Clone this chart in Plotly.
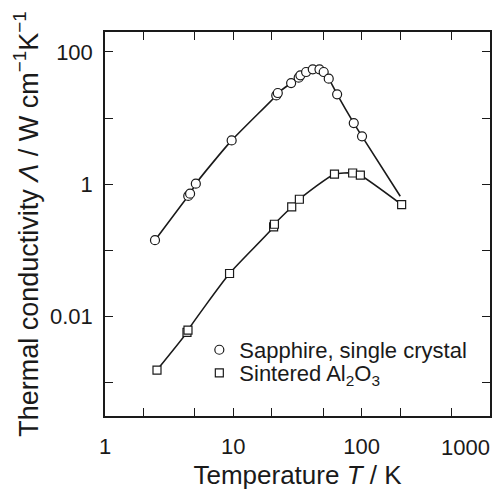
import plotly.graph_objects as go

# Sapphire, single crystal (temperature K, conductivity W cm^-1 K^-1)
sapphire_T = [2.45, 4.45, 4.6, 5.1, 9.7, 21.6, 22.2, 28.2, 32.3, 33.3, 36.9, 41.6, 46.9, 50.6, 55.4, 64.4, 86.8, 100.7]
sapphire_k = [0.143, 0.667, 0.72, 1.02, 4.6, 22.0, 23.9, 33.8, 40.7, 44.2, 49.6, 54.4, 54.4, 49.6, 39.4, 22.8, 8.4, 5.3]
# end of the sapphire guide curve (no marker)
sapphire_curve_end_T = [200.0]
sapphire_curve_end_k = [0.66]

# Sintered Al2O3
sintered_T = [2.54, 4.35, 4.43, 9.34, 20.6, 20.9, 28.5, 32.7, 61.4, 85.1, 97.7, 205.0]
sintered_k = [0.00156, 0.00578, 0.00625, 0.0449, 0.227, 0.249, 0.455, 0.594, 1.42, 1.48, 1.37, 0.494]

x_tickvals = [1, 2, 5, 10, 20, 50, 100, 200, 500, 1000]
x_ticktext = ["1", "", "", "10", "", "", "100", "", "", ""]
x_last_label_val = 1000
x_last_label = "1000"
y_tickvals = [0.001, 0.01, 0.1, 1, 10, 100]
y_ticktext = ["", "0.01", "", "1", "", "100"]

FONT = "Liberation Sans, Arial, Helvetica, sans-serif"
INK = "#1a1a1a"

fig = go.Figure()

fig.add_trace(go.Scatter(
    x=sapphire_T + sapphire_curve_end_T, y=sapphire_k + sapphire_curve_end_k,
    mode="lines", line=dict(color=INK, width=1.6, shape="spline", smoothing=0.6),
    showlegend=False, hoverinfo="skip"))
fig.add_trace(go.Scatter(
    x=sintered_T, y=sintered_k,
    mode="lines", line=dict(color=INK, width=1.6, shape="spline", smoothing=0.6),
    showlegend=False, hoverinfo="skip"))

fig.add_trace(go.Scatter(
    x=sapphire_T, y=sapphire_k, mode="markers", name="Sapphire, single crystal",
    legend="legend",
    marker=dict(symbol="circle", size=9, color="white", line=dict(color=INK, width=1.2))))
fig.add_trace(go.Scatter(
    x=sintered_T, y=sintered_k, mode="markers", name="Sintered Al<sub>2</sub>O<sub>3</sub>",
    legend="legend2",
    marker=dict(symbol="square", size=8, color="white", line=dict(color=INK, width=1.2))))

axis_common = dict(
    showline=True, linecolor=INK, linewidth=1.5, mirror="ticks",
    ticks="inside", ticklen=8, tickwidth=1.2, tickcolor=INK,
    showgrid=False, zeroline=False, automargin=False,
    tickfont=dict(family=FONT, size=22, color=INK),
)

fig.update_xaxes(
    type="log", range=[-0.0005, 3.0005], tickmode="array", tickvals=x_tickvals, ticktext=x_ticktext,
    ticklabelstandoff=10,
    title=dict(text="Temperature <i>T</i> / K", font=dict(family=FONT, size=26, color=INK), standoff=8),
    **axis_common)
fig.update_yaxes(
    type="log", range=[-3.5, 2.3], tickmode="array", tickvals=y_tickvals, ticktext=y_ticktext,
    ticklabelstandoff=6,
    title=dict(text="Thermal conductivity <i>Λ</i> / W cm<sup>−1</sup>K<sup>−1</sup>",
               font=dict(family=FONT, size=27, color=INK), standoff=4),
    **axis_common)

# the last x tick label sits right-aligned to its tick so that it fits in the figure
import math
fig.add_annotation(
    x=math.log10(x_last_label_val), xref="x", y=0, yref="paper",
    text=x_last_label, showarrow=False, xanchor="right", yanchor="top",
    yshift=-17, xshift=2, font=dict(family=FONT, size=22, color=INK))

legend_common = dict(xanchor="left", yanchor="middle", bgcolor="rgba(0,0,0,0)",
                     font=dict(family=FONT, size=22, color=INK), itemwidth=30,
                     borderwidth=0)
fig.update_layout(
    width=498, height=492,
    margin=dict(l=105, r=8, t=32, b=76),
    paper_bgcolor="white", plot_bgcolor="white",
    font=dict(family=FONT, color=INK),
    showlegend=True,
    legend=dict(x=0.245, y=0.172, **legend_common),
    legend2=dict(x=0.245, y=0.112, **legend_common),
)

fig.write_html("out.html")
